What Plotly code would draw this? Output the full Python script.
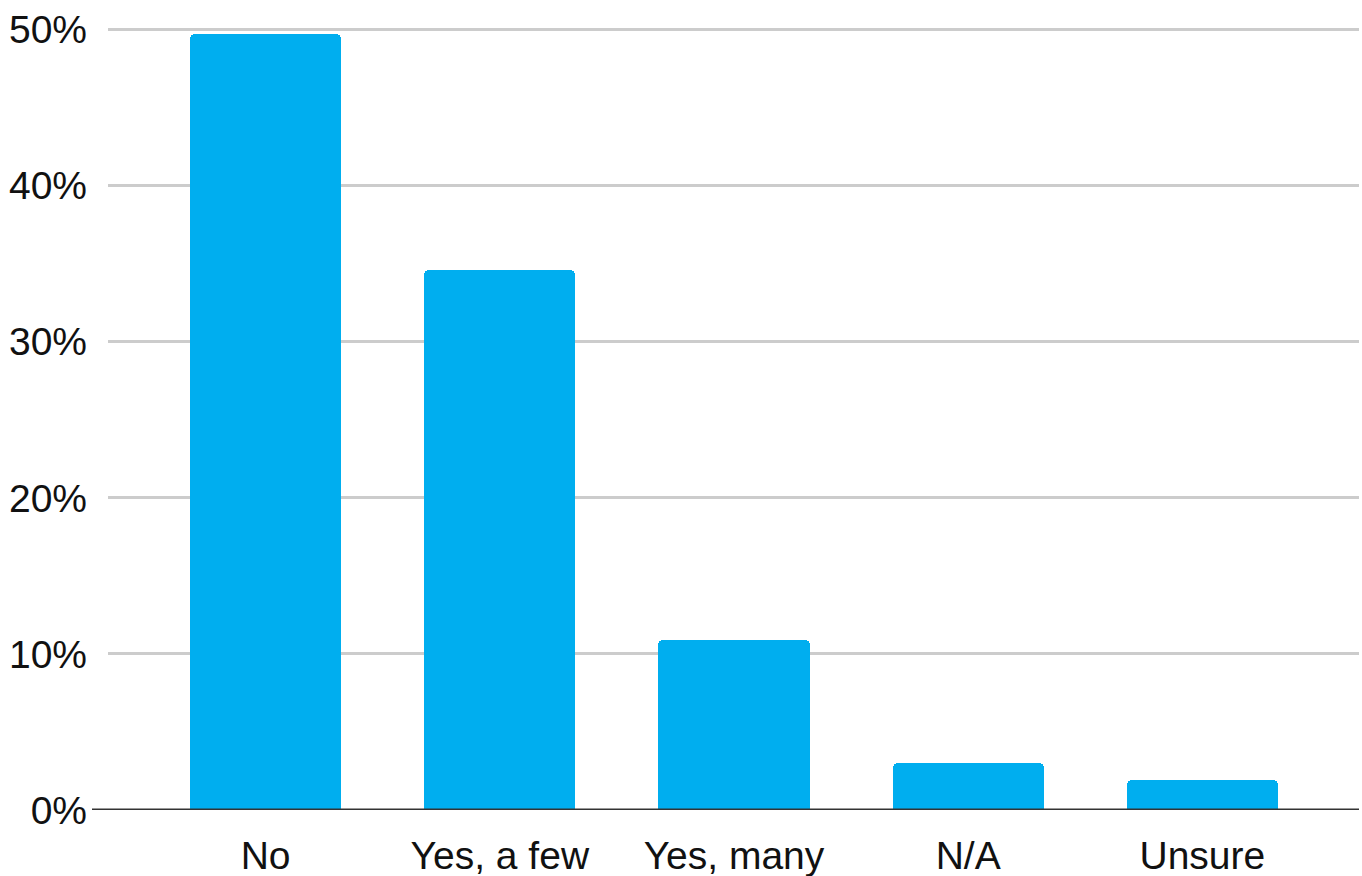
import plotly.graph_objects as go

categories = ["No", "Yes, a few", "Yes, many", "N/A", "Unsure"]
values = [49.7, 34.6, 10.9, 3.0, 1.9]
y_ticks = [0, 10, 20, 30, 40, 50]
y_tick_labels = ["0%", "10%", "20%", "30%", "40%", "50%"]

FONT = "Liberation Sans, Arial, sans-serif"

fig = go.Figure(
    go.Bar(
        x=list(range(len(categories))),
        y=values,
        width=0.646,
        marker=dict(color="#00AEEF", line=dict(width=0), cornerradius=5),
        hoverinfo="skip",
    )
)

fig.update_layout(
    width=1362,
    height=876,
    margin=dict(l=108, r=3, t=25, b=66, autoexpand=False),
    paper_bgcolor="white",
    plot_bgcolor="white",
    showlegend=False,
    font=dict(family=FONT, size=39, color="#111111"),
    bargap=0,
)

fig.update_xaxes(
    range=[-0.673, 4.669],
    tickmode="array",
    tickvals=list(range(len(categories))),
    ticktext=categories,
    showgrid=False,
    zeroline=False,
    showline=False,
    ticks="",
    automargin=False,
    ticklabelstandoff=19,
    tickfont=dict(family=FONT, size=39, color="#111111"),
)

fig.update_yaxes(
    range=[0, 50.3],
    tickmode="array",
    tickvals=y_ticks,
    ticktext=y_tick_labels,
    showgrid=True,
    gridcolor="#CCCCCC",
    gridwidth=2.5,
    zeroline=False,
    showline=False,
    ticks="",
    automargin=False,
    ticklabelstandoff=20,
    tickfont=dict(family=FONT, size=39, color="#111111"),
)

fig.add_shape(
    type="line",
    xref="paper",
    yref="y",
    x0=-16 / 1251,
    x1=1,
    y0=0,
    y1=0,
    line=dict(color="#333333", width=3),
    layer="above",
)

fig.write_html(
    "out.html",
    config={"displayModeBar": False},
    post_script="document.body.style.margin='0';document.body.style.overflow='hidden';",
)
